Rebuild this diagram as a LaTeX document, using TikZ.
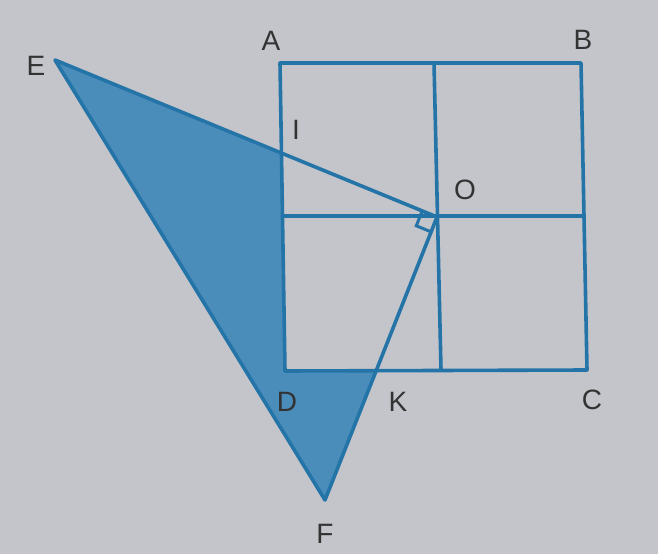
\documentclass[tikz,border=0pt]{standalone}
\usepackage{fontspec}
\setmainfont{Liberation Sans}
\usetikzlibrary{calc}
\definecolor{bg}{RGB}{196,197,202}
\definecolor{ln}{RGB}{36,116,168}
\definecolor{sh}{RGB}{74,141,187}
\begin{document}
\begin{tikzpicture}[x=1pt,y=-1pt,
  geo/.style={draw=ln,line width=3.6pt,line join=round},
  lbl/.style={font=\fontsize{28}{28}\selectfont,text=black!80}]
\fill[bg] (0,0) rectangle (658,554);
\useasboundingbox (0,0) rectangle (658,554);
% points
\coordinate (A) at (280,63);
\coordinate (B) at (581,63);
\coordinate (C) at (587,370);
\coordinate (D) at (285,371);
\coordinate (O) at (437,217);
\coordinate (E) at (55,60);
\coordinate (F) at (325,500);
\coordinate (I) at (281,152);
\coordinate (K) at (375,371);
\coordinate (Mt) at (434,63);
\coordinate (Mb) at (441,370);
\coordinate (Ml) at (282,216);
\coordinate (Mr) at (584,216);
\coordinate (P1) at ($(O)!16pt!(E)$);
\coordinate (P2) at ($(O)!16pt!(F)$);
\coordinate (P3) at ($(P1)+(P2)-(O)$);
% shaded region
\fill[sh] (E) -- (I) -- (D) -- (K) -- (F) -- cycle;
% square and midlines
\draw[geo] (A) -- (B) -- (C) -- (D) -- cycle;
\draw[geo] (Mt) -- (Mb);
\draw[geo] (Ml) -- (Mr);
% triangle EOF
\draw[geo] (E) -- (O) -- (F) -- cycle;
% right angle mark
\draw[ln,line width=3pt] (P1) -- (P3) -- (P2);
% labels
\node[lbl] (lA) at (271,41) {A};
\node[lbl] (lB) at (583,40) {B};
\node[lbl] (lC) at (592,400) {C};
\node[lbl] (lD) at (287,402) {D};
\node[lbl] (lE) at (36,66) {E};
\node[lbl] (lF) at (325,534) {F};
\node[lbl] (lI) at (296,130) {I};
\node[lbl] (lK) at (398,402) {K};
\node[lbl] (lO) at (465,190) {O};
\end{tikzpicture}
\end{document}
